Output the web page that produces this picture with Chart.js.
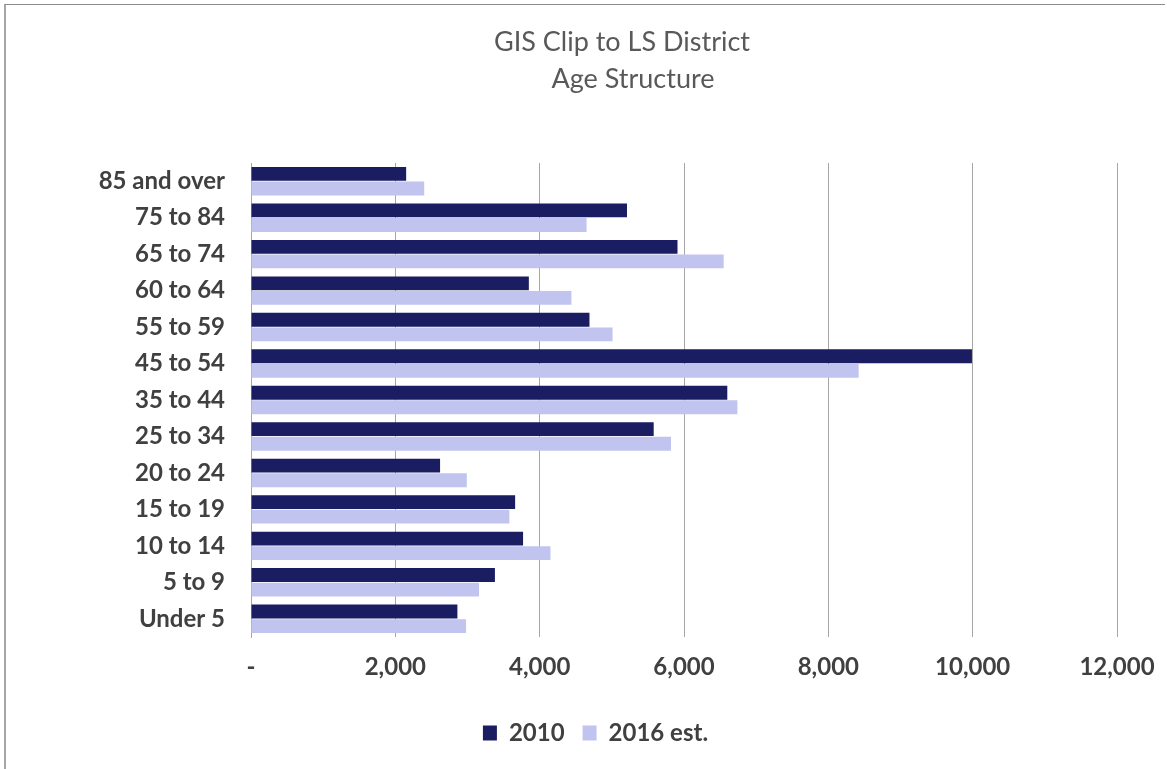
<!DOCTYPE html>
<html>
<head>
<meta charset="utf-8">
<title>Age Structure</title>
<script src="https://cdn.jsdelivr.net/npm/chart.js@4/dist/chart.umd.min.js"></script>
<style>
    html, body { margin: 0; padding: 0; background: #fff; }
    #wrap { position: relative; width: 1167px; height: 769px; }
    #frame {
        position: absolute; left: 4px; top: 4px; right: 2px; bottom: 0;
        border-top: 1px solid #8c8c8c; border-left: 2px solid #a6a6a6;
        pointer-events: none;
    }
</style>
</head>
<body>
<div id="wrap">
    <canvas id="age-chart" width="1167" height="769"></canvas>
    <div id="frame"></div>
</div>
<script>
const ageGroups = ['85 and over', '75 to 84', '65 to 74', '60 to 64', '55 to 59', '45 to 54',
    '35 to 44', '25 to 34', '20 to 24', '15 to 19', '10 to 14', '5 to 9', 'Under 5']
const pop2010 = [2150, 5210, 5910, 3850, 4690, 9990, 6600, 5580, 2620, 3660, 3770, 3380, 2860]
const pop2016 = [2400, 4650, 6550, 4440, 5010, 8420, 6740, 5820, 2990, 3580, 4150, 3160, 2980]
const seriesNames = ['2010', '2016 est.']
const titleLines = ['GIS Clip to LS District', 'Age Structure']

const labelFont = { family: 'Lato', size: 24, weight: 'bold' }
const textColor = '#404040'

// two-line heading drawn above the plot
const headingPlugin = {
    id: 'heading',
    afterDraw(chart) {
        const ctx = chart.ctx
        ctx.save()
        ctx.fillStyle = '#595959'
        ctx.font = '27px Lato'
        ctx.textAlign = 'center'
        ctx.textBaseline = 'middle'
        ctx.fillText(titleLines[0], 622, 42)
        ctx.fillText(titleLines[1], 633, 79)
        ctx.restore()
    }
}

new Chart(document.getElementById('age-chart'), {
    type: 'bar',
    data: {
        labels: ageGroups,
        datasets: [{
            label: seriesNames[0],
            data: pop2010,
            backgroundColor: '#1a1d61',
            barPercentage: 0.95,
            categoryPercentage: 0.8
        }, {
            label: seriesNames[1],
            data: pop2016,
            backgroundColor: '#c1c4ee',
            barPercentage: 0.95,
            categoryPercentage: 0.8
        }]
    },
    options: {
        indexAxis: 'y',
        responsive: false,
        animation: false,
        layout: { padding: { top: 163, left: 74, right: 50, bottom: 14 } },
        scales: {
            x: {
                min: 0,
                max: 12000,
                ticks: {
                    stepSize: 2000,
                    padding: 16,
                    color: textColor,
                    font: labelFont,
                    callback: v => v === 0 ? '-' : v.toLocaleString('en-US')
                },
                grid: { color: '#a6a6a6', drawTicks: false },
                border: { display: false },
                afterFit: scale => {
                    scale.height = 66
                    // tick labels may hang past the plot edges
                    scale.paddingLeft = 0
                    scale.paddingRight = 0
                }
            },
            y: {
                ticks: { padding: 26, color: textColor, font: labelFont },
                grid: { display: false, drawTicks: false },
                border: { display: true, color: '#a6a6a6' },
                afterFit: scale => { scale.width = 177 }
            }
        },
        plugins: {
            legend: {
                position: 'bottom',
                labels: {
                    boxWidth: 14,
                    boxHeight: 15,
                    padding: 18,
                    color: textColor,
                    font: labelFont
                }
            },
            tooltip: { enabled: false }
        }
    },
    plugins: [headingPlugin]
})
</script>
</body>
</html>
